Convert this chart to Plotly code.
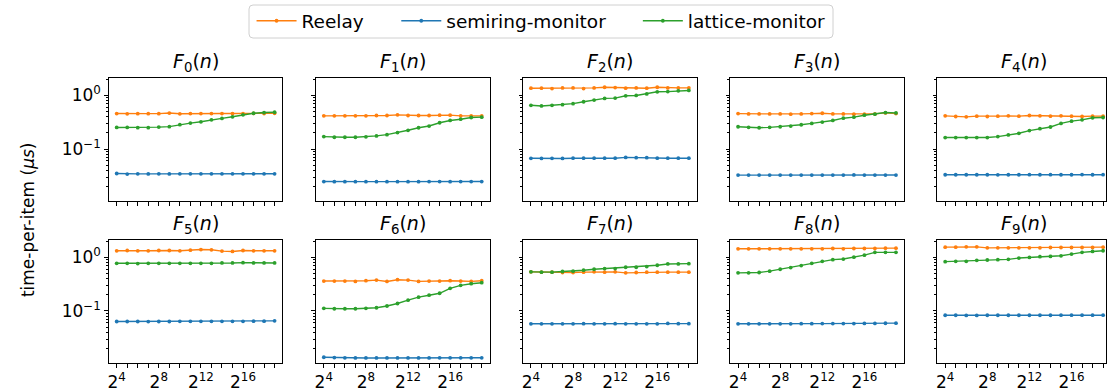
import plotly.graph_objects as go

W, H = 1107, 392

n_values = [16, 32, 64, 128, 256, 512, 1024, 2048, 4096, 8192,
            16384, 32768, 65536, 131072, 262144, 524288]
panel_titles = ["<i>F</i><sub>%d</sub>(<i>n</i>)" % i for i in range(10)]
series_names = ["Reelay", "semiring-monitor", "lattice-monitor"]
series_colors = ["#ff7f0e", "#1f77b4", "#2ca02c"]

reelay = [
    [0.46, 0.455, 0.458, 0.458, 0.458, 0.47, 0.455, 0.46, 0.46, 0.46, 0.46, 0.46, 0.46, 0.462, 0.46, 0.465],
    [0.417, 0.417, 0.417, 0.417, 0.417, 0.423, 0.423, 0.435, 0.423, 0.423, 0.423, 0.429, 0.429, 0.417, 0.417, 0.417],
    [1.365, 1.365, 1.345, 1.384, 1.384, 1.345, 1.384, 1.423, 1.404, 1.365, 1.384, 1.365, 1.423, 1.384, 1.384, 1.384],
    [0.459, 0.453, 0.453, 0.453, 0.453, 0.447, 0.453, 0.459, 0.466, 0.453, 0.453, 0.447, 0.447, 0.453, 0.473, 0.459],
    [0.417, 0.405, 0.399, 0.411, 0.405, 0.411, 0.417, 0.411, 0.423, 0.417, 0.411, 0.417, 0.411, 0.405, 0.411, 0.411],
    [1.327, 1.345, 1.327, 1.327, 1.345, 1.345, 1.327, 1.36, 1.40, 1.384, 1.31, 1.289, 1.345, 1.327, 1.327, 1.327],
    [0.362, 0.362, 0.362, 0.356, 0.367, 0.377, 0.356, 0.383, 0.377, 0.356, 0.362, 0.362, 0.367, 0.362, 0.356, 0.367],
    [0.537, 0.530, 0.530, 0.522, 0.522, 0.530, 0.537, 0.530, 0.537, 0.515, 0.522, 0.530, 0.530, 0.530, 0.530, 0.530],
    [1.445, 1.445, 1.445, 1.445, 1.445, 1.445, 1.445, 1.445, 1.445, 1.465, 1.445, 1.465, 1.465, 1.465, 1.485, 1.485],
    [1.55, 1.55, 1.57, 1.57, 1.506, 1.506, 1.506, 1.506, 1.506, 1.506, 1.527, 1.527, 1.527, 1.527, 1.527, 1.55],
]

semiring = [
    [0.035, 0.0342, 0.0345, 0.0344, 0.0345, 0.0344, 0.0345, 0.0345, 0.0345, 0.0345, 0.0345, 0.0346, 0.0346, 0.0346, 0.0346, 0.0346],
    [0.0248, 0.0246, 0.0246, 0.0247, 0.0247, 0.0247, 0.0247, 0.0247, 0.0247, 0.0247, 0.0248, 0.0248, 0.0247, 0.0248, 0.0248, 0.0248],
    [0.0673, 0.0668, 0.0672, 0.0668, 0.0675, 0.0675, 0.0675, 0.0675, 0.0675, 0.070, 0.069, 0.069, 0.0675, 0.0675, 0.0675, 0.0675],
    [0.0327, 0.0327, 0.0327, 0.0327, 0.0327, 0.0327, 0.0328, 0.0328, 0.0327, 0.0327, 0.0327, 0.0329, 0.0328, 0.0328, 0.0328, 0.0328],
    [0.0332, 0.0332, 0.0332, 0.0332, 0.0332, 0.0331, 0.0332, 0.0332, 0.0333, 0.0332, 0.0333, 0.0332, 0.0332, 0.0334, 0.0332, 0.0333],
    [0.0637, 0.0637, 0.0637, 0.0635, 0.0637, 0.0637, 0.064, 0.064, 0.064, 0.064, 0.064, 0.064, 0.064, 0.0645, 0.0645, 0.0655],
    [0.0137, 0.0135, 0.0134, 0.0133, 0.0133, 0.0133, 0.0133, 0.0133, 0.0133, 0.0133, 0.0133, 0.0134, 0.0134, 0.0134, 0.0134, 0.0134],
    [0.0577, 0.0577, 0.0577, 0.0577, 0.0577, 0.058, 0.0577, 0.0577, 0.058, 0.0577, 0.0577, 0.0577, 0.0575, 0.0585, 0.058, 0.058],
    [0.0577, 0.0575, 0.0575, 0.0577, 0.0577, 0.0577, 0.058, 0.058, 0.0582, 0.0582, 0.0582, 0.0582, 0.0585, 0.0585, 0.059, 0.0593],
    [0.0832, 0.0832, 0.0828, 0.0828, 0.0832, 0.0832, 0.0832, 0.0832, 0.0832, 0.0832, 0.0832, 0.0835, 0.0835, 0.0835, 0.0835, 0.0835],
]

lattice = [
    [0.253, 0.253, 0.251, 0.251, 0.257, 0.262, 0.285, 0.305, 0.323, 0.352, 0.373, 0.40, 0.435, 0.466, 0.48, 0.486],
    [0.171, 0.166, 0.166, 0.166, 0.169, 0.176, 0.186, 0.203, 0.224, 0.250, 0.269, 0.310, 0.342, 0.361, 0.388, 0.394],
    [0.655, 0.637, 0.655, 0.673, 0.703, 0.764, 0.821, 0.881, 0.893, 0.986, 1.0, 1.07, 1.17, 1.18, 1.22, 1.24],
    [0.261, 0.254, 0.250, 0.254, 0.261, 0.269, 0.284, 0.301, 0.319, 0.342, 0.377, 0.394, 0.428, 0.447, 0.480, 0.473],
    [0.164, 0.164, 0.164, 0.164, 0.164, 0.171, 0.184, 0.197, 0.221, 0.240, 0.258, 0.301, 0.332, 0.351, 0.383, 0.388],
    [0.776, 0.776, 0.766, 0.776, 0.776, 0.776, 0.776, 0.776, 0.776, 0.776, 0.787, 0.787, 0.798, 0.787, 0.787, 0.787],
    [0.112, 0.110, 0.110, 0.110, 0.112, 0.115, 0.124, 0.138, 0.159, 0.181, 0.197, 0.214, 0.265, 0.301, 0.323, 0.337],
    [0.537, 0.530, 0.530, 0.545, 0.553, 0.576, 0.601, 0.618, 0.618, 0.655, 0.655, 0.673, 0.713, 0.754, 0.754, 0.764],
    [0.515, 0.515, 0.522, 0.553, 0.601, 0.645, 0.703, 0.776, 0.844, 0.906, 0.931, 1.01, 1.10, 1.24, 1.24, 1.24],
    [0.832, 0.844, 0.844, 0.881, 0.893, 0.906, 0.919, 0.972, 1.0, 1.03, 1.04, 1.07, 1.15, 1.24, 1.29, 1.33],
]

x_tick_labels = {16: "2<sup>4</sup>", 256: "2<sup>8</sup>", 4096: "2<sup>12</sup>", 65536: "2<sup>16</sup>"}
y_major = [0.1, 1.0]
y_major_text = ["10<sup>\u22121</sup>", "10<sup>0</sup>"]
y_minor = [m * 10.0 ** e for e in (-2, -1, 0) for m in range(2, 10)]

FONT = "DejaVu Sans"
LOG2 = 0.30102999566
X_LO, X_HI = 3.25, 19.75          # log2 range of a full panel
PANEL_W, PANEL_H = 174, 125
LEFT0, STEP = 108, 207.5
ROW_TOP = [79, 243]
Y_RANGE = [-1.976, 0.326]

# legend geometry (pixels)
LEG_BOX = (248, 5, 832, 38)
LEG_ITEM_X = [257, 402, 644]      # left end of each legend line sample
LEG_KEYS = ["legend", "legend2", "legend3"]

fig = go.Figure()
annotations = []
layout_axes = {}

for k in range(10):
    r, c = divmod(k, 5)
    ax = "" if k == 0 else str(k + 1)
    left = LEFT0 + STEP * c
    right = left + PANEL_W
    x_hi = X_HI
    if right > W:
        x_hi = X_LO + (X_HI - X_LO) * (W - left) / PANEL_W
        right = W
    top = ROW_TOP[r]
    bottom = top + PANEL_H
    xdom = [left / W, right / W]
    ydom = [1 - bottom / H, 1 - top / H]

    for s, data in enumerate([reelay, semiring, lattice]):
        fig.add_trace(go.Scatter(
            x=n_values, y=data[k], mode="lines+markers",
            name=series_names[s], legendgroup=series_names[s], showlegend=(k == 0),
            legend=LEG_KEYS[s],
            line=dict(color=series_colors[s], width=1.4),
            marker=dict(color=series_colors[s], size=3.8),
            xaxis="x" + ax, yaxis="y" + ax,
        ))

    layout_axes["xaxis" + ax] = dict(
        type="log", domain=xdom, range=[X_LO * LOG2, x_hi * LOG2], anchor="y" + ax,
        showline=True, linecolor="black", linewidth=1, mirror=True,
        showgrid=False, zeroline=False,
        ticks="outside", ticklen=3.5, tickwidth=0.8, tickcolor="black",
        tickmode="array", tickvals=n_values,
        ticktext=[x_tick_labels.get(v, "") for v in n_values] if r == 1 else [""] * len(n_values),
        tickfont=dict(family=FONT, size=17, color="black"),
    )
    layout_axes["yaxis" + ax] = dict(
        type="log", domain=ydom, range=Y_RANGE, anchor="x" + ax,
        showline=True, linecolor="black", linewidth=1, mirror=True,
        showgrid=False, zeroline=False,
        ticks="outside", ticklen=3.5, tickwidth=0.8, tickcolor="black",
        tickmode="array", tickvals=y_major,
        ticktext=y_major_text if c == 0 else ["", ""],
        tickfont=dict(family=FONT, size=17, color="black"),
        minor=dict(ticks="outside", ticklen=2, tickwidth=0.6, tickcolor="black",
                   tickmode="array", tickvals=y_minor, showgrid=False),
    )
    annotations.append(dict(
        text=panel_titles[k], xref="paper", yref="paper",
        x=(left + PANEL_W / 2) / W, y=1 - (top - 1) / H,
        xanchor="center", yanchor="bottom", showarrow=False,
        font=dict(family=FONT, size=19, color="black"),
    ))

annotations.append(dict(
    text="time-per-item (<i>\u03bcs</i>)", xref="paper", yref="paper",
    x=27 / W, y=1 - 222 / H, xanchor="center", yanchor="middle",
    textangle=-90, showarrow=False,
    font=dict(family=FONT, size=17, color="black"),
))

legends = {}
leg_mid = (LEG_BOX[1] + LEG_BOX[3]) / 2
for i, key in enumerate(LEG_KEYS):
    legends[key] = dict(
        orientation="h", x=(LEG_ITEM_X[i] - 6) / W, xanchor="left",
        y=1 - leg_mid / H, yanchor="middle",
        borderwidth=0, bgcolor="rgba(0,0,0,0)",
        font=dict(family=FONT, size=18.5, color="black"),
        itemwidth=40,
    )

x0, y0, x1, y1 = LEG_BOX
rad = 4
shape = dict(type="path", xref="paper", yref="paper",
             xsizemode="pixel", ysizemode="pixel", xanchor=0, yanchor=1,
             path=(f"M{x0+rad},{-y0} L{x1-rad},{-y0} Q{x1},{-y0} {x1},{-(y0+rad)} "
                   f"L{x1},{-(y1-rad)} Q{x1},{-y1} {x1-rad},{-y1} L{x0+rad},{-y1} "
                   f"Q{x0},{-y1} {x0},{-(y1-rad)} L{x0},{-(y0+rad)} Q{x0},{-y0} {x0+rad},{-y0} Z"),
             line=dict(color="#d0d0d0", width=1), fillcolor="white", layer="below")

fig.update_layout(
    width=W, height=H, margin=dict(l=0, r=0, t=0, b=0),
    paper_bgcolor="white", plot_bgcolor="white",
    font=dict(family=FONT, color="black"),
    showlegend=True,
    annotations=annotations,
    shapes=[shape],
    **legends,
    **layout_axes,
)

fig.write_html("out.html")
